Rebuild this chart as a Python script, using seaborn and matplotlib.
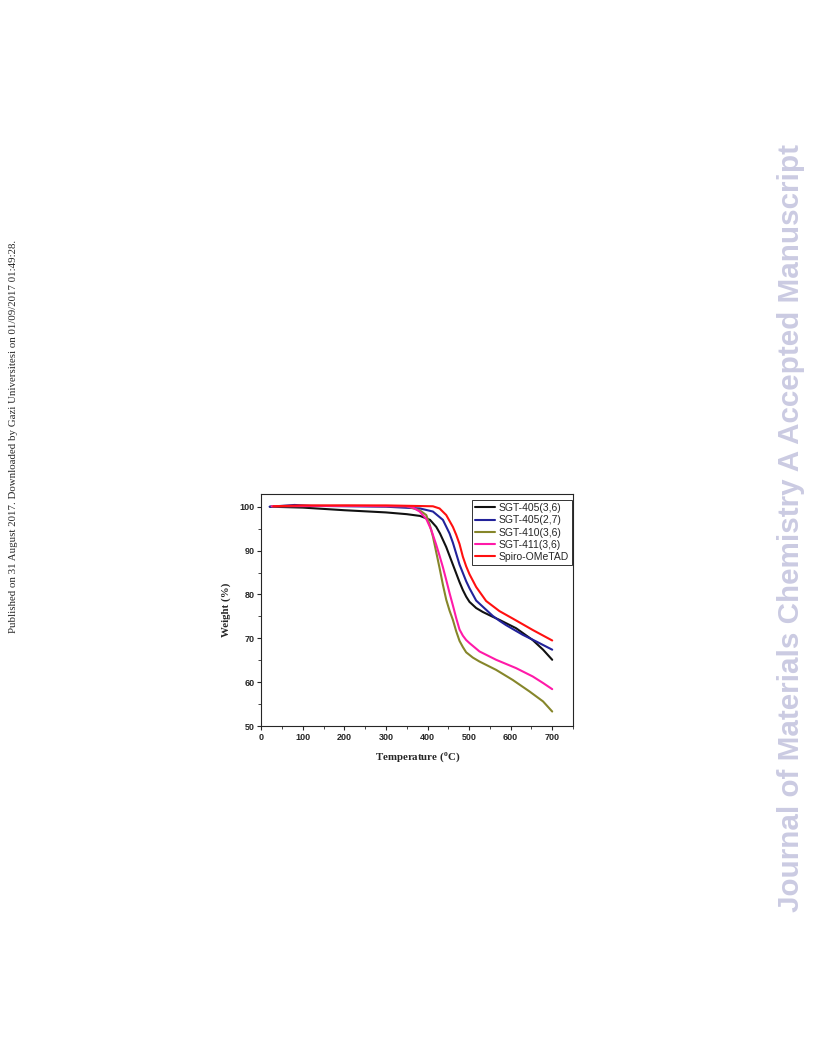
import matplotlib
matplotlib.use("Agg")
import matplotlib.pyplot as plt
import seaborn as sns
from matplotlib.ticker import MultipleLocator

# TGA curves (temperature in C, weight in %)
t_405_36 = [21, 100, 200, 300, 350, 382, 406, 421, 430, 445, 453, 461, 469, 477, 485, 493, 501,
            517, 533, 557, 573, 613, 653, 678, 700]
w_405_36 = [100.0, 99.8, 99.2, 98.7, 98.3, 97.9, 97.0, 95.4, 93.9, 90.8, 88.8, 86.8, 84.8, 82.8, 81.0, 79.5, 78.3,
            76.9, 76.0, 74.9, 74.2, 72.3, 69.6, 67.4, 65.1]

t_405_27 = [20, 80, 120, 300, 382, 413, 437, 453, 461, 469, 477, 485, 493, 501, 517, 541, 557,
            573, 589, 629, 661, 700]
w_405_27 = [100.0, 100.4, 100.2, 100.0, 99.6, 98.9, 97.0, 93.9, 91.8, 89.3, 86.8, 84.9, 83.0, 81.4, 78.6, 76.5, 75.1,
            74.0, 73.0, 70.8, 69.3, 67.4]

t_410_36 = [25, 205, 349, 381, 397, 405, 413, 421, 429, 437, 445, 453, 461, 469, 477, 485, 493,
            509, 525, 565, 605, 645, 678, 700]
w_410_36 = [100.1, 100.2, 100.1, 99.2, 98.1, 96.0, 93.2, 89.6, 86.0, 82.2, 78.8, 76.3, 74.2, 71.6, 69.4, 68.0, 66.8,
            65.6, 64.7, 62.8, 60.5, 57.9, 55.6, 53.3]

t_411_36 = [25, 205, 349, 365, 381, 397, 409, 421, 429, 437, 445, 453, 461, 469, 477, 485, 493,
            501, 525, 565, 613, 653, 678, 700]
w_411_36 = [100.1, 100.2, 100.1, 99.8, 98.9, 97.2, 94.7, 91.3, 88.8, 86.2, 83.3, 80.3, 77.5, 74.6, 72.0, 70.6, 69.6,
            68.9, 67.0, 65.1, 63.2, 61.3, 59.8, 58.4]

t_spiro = [29, 100, 300, 413, 429, 445, 461, 469, 477, 485, 493, 501, 517, 541, 573, 605, 653, 700]
w_spiro = [100.1, 100.3, 100.3, 100.1, 99.6, 98.1, 95.4, 93.6, 91.5, 88.6, 86.4, 84.6, 81.7, 78.5, 76.2, 74.5, 71.9, 69.5]

series = [
    ("SGT-405(3,6)", t_405_36, w_405_36, "#111111"),
    ("SGT-405(2,7)", t_405_27, w_405_27, "#22229a"),
    ("SGT-410(3,6)", t_410_36, w_410_36, "#86862a"),
    ("SGT-411(3,6)", t_411_36, w_411_36, "#ff1aa8"),
    ("Spiro-OMeTAD", t_spiro, w_spiro, "#ff1010"),
]

sns.set_style("ticks")
plt.rcParams["font.family"] = ["Liberation Sans", "DejaVu Sans"]
plt.rcParams["mathtext.fontset"] = "custom"
plt.rcParams["mathtext.rm"] = "Liberation Serif:bold"

fig = plt.figure(figsize=(8.16, 10.56), dpi=100)
ax = fig.add_axes([0.3202, 0.3125, 0.382, 0.2197])

for name, t, w, c in series:
    sns.lineplot(x=t, y=w, ax=ax, color=c, linewidth=1.5, label=name)

ax.set_xlim(0, 750)
ax.set_ylim(50, 102.9)
ax.xaxis.set_major_locator(MultipleLocator(100))
ax.xaxis.set_minor_locator(MultipleLocator(50))
ax.yaxis.set_major_locator(MultipleLocator(10))
ax.yaxis.set_minor_locator(MultipleLocator(5))
ax.tick_params(which="major", length=3, width=0.8, labelsize=6.5, pad=2)
ax.tick_params(which="minor", length=2, width=0.6)
for lab in ax.get_xticklabels() + ax.get_yticklabels():
    lab.set_fontweight("bold")
for sp in ax.spines.values():
    sp.set_linewidth(0.8)
    sp.set_visible(True)

ax.set_xlabel(r"Temperature ($^{\rm o}$C)", fontfamily="Liberation Serif",
              fontweight="bold", fontsize=7.8, labelpad=6)
ax.set_ylabel("Weight (%)", fontfamily="Liberation Serif",
              fontweight="bold", fontsize=7.8, labelpad=6)

leg = ax.legend(loc="upper right", bbox_to_anchor=(0.997, 0.975), fontsize=7.5,
                frameon=True, fancybox=False, edgecolor="black",
                handlelength=1.9, handletextpad=0.35, labelspacing=0.22,
                borderpad=0.3, borderaxespad=0.0)
leg.get_frame().set_linewidth(0.7)

fig.text(0.017, 0.587,
         "Published on 31 August 2017. Downloaded by Gazi Universitesi on 01/09/2017 01:49:28.",
         rotation=90, ha="center", va="center", fontsize=7.8,
         fontfamily="Liberation Serif")
fig.text(0.969, 0.5,
         "Journal of Materials Chemistry A Accepted Manuscript",
         rotation=90, ha="center", va="center", fontsize=21.3,
         fontweight="bold", color="#cbcbe2", fontfamily="Liberation Sans")

fig.savefig("out.png", dpi=100)
